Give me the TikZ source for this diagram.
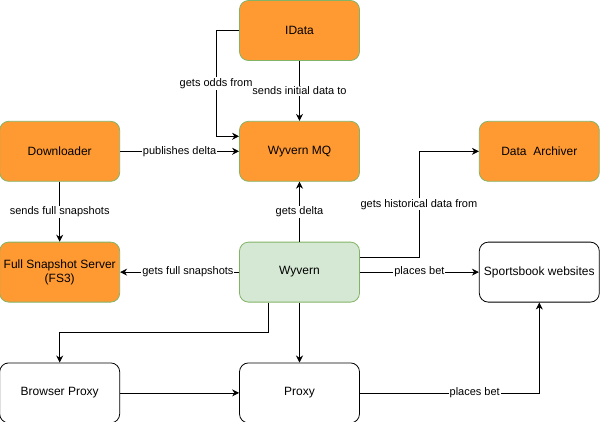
\documentclass[tikz,border=0pt]{standalone}
\usepackage{fontspec}
\setmainfont{Liberation Sans}
\usetikzlibrary{positioning,arrows.meta}

\definecolor{boxorange}{HTML}{FF9A33}
\definecolor{boxgreen}{HTML}{D5E8D4}
\definecolor{edgegreen}{HTML}{82B366}

\begin{document}
\begin{tikzpicture}[x=1pt, y=1pt, node distance=60pt and 119pt,
    service/.style={rectangle, rounded corners=9pt, draw, line width=0.8pt,
      minimum width=120pt, minimum height=60pt, inner sep=0pt, align=center,
      font=\fontsize{12}{14}\selectfont},
    queue/.style={service, fill=boxorange, draw=edgegreen},
    worker/.style={service, fill=boxgreen, draw=edgegreen},
    outside/.style={service, fill=white, draw=black},
    lbl/.style={fill=white, inner sep=1pt, font=\fontsize{11}{13}\selectfont},
    flow/.style={-{Stealth[length=7pt,width=7pt]}, line width=0.8pt}]
    \useasboundingbox (-0.5,0.5) rectangle (600.5,-420.5);

    \node[queue] (IData) at (299,-30) {IData};
    \node[queue] (WyvernMQ) [below=of IData] {Wyvern MQ};
    \node[queue] (Downloader) [left=of WyvernMQ] {Downloader};
    \node[queue] (Archiver) [right=of WyvernMQ] {Data\ \ Archiver};
    \node[worker] (Wyvern) [below=of WyvernMQ] {Wyvern};
    \node[queue] (FS3) [below=of Downloader] {Full Snapshot Server\\(FS3)};
    \node[outside] (Sportsbook) [right=of Wyvern] {Sportsbook websites};
    \node[outside] (BrowserProxy) [below=of FS3] {Browser Proxy};
    \node[outside] (Proxy) [below=of Wyvern] {Proxy};

    \coordinate (oddsBend) at ([xshift=-23pt]IData.west);
    \coordinate (historyBend) at ([xshift=-60pt]Archiver.west);

    \draw[flow] (IData) -- node[lbl] {sends initial data to} (WyvernMQ);
    \draw[flow] (IData.west) -- (oddsBend) |- node[lbl, pos=0.25] {gets odds from} ([yshift=15pt]WyvernMQ.west);
    \draw[flow] (Downloader) -- node[lbl] {publishes delta} (WyvernMQ);
    \draw[flow] (Downloader) -- node[lbl] {sends full snapshots} (FS3);
    \draw[flow] (Wyvern) -- node[lbl] {gets delta} (WyvernMQ);
    \draw[flow] (Wyvern) -- node[lbl, pos=0.43] {gets full snapshots} (FS3);
    \draw[flow] ([yshift=15pt]Wyvern.east) -| node[lbl, pos=0.75] {gets historical data from} (historyBend) -- (Archiver.west);
    \draw[flow] (Wyvern) -- node[lbl] {places bet} (Sportsbook);
    \draw[flow] ([xshift=-31pt]Wyvern.south) -- ++(0,-30pt) -| (BrowserProxy.north);
    \draw[flow] (Wyvern) -- (Proxy);
    \draw[flow] (BrowserProxy) -- (Proxy);
    \draw[flow] (Proxy.east) -| node[lbl, pos=0.32] {places bet} (Sportsbook.south);
\end{tikzpicture}
\end{document}
